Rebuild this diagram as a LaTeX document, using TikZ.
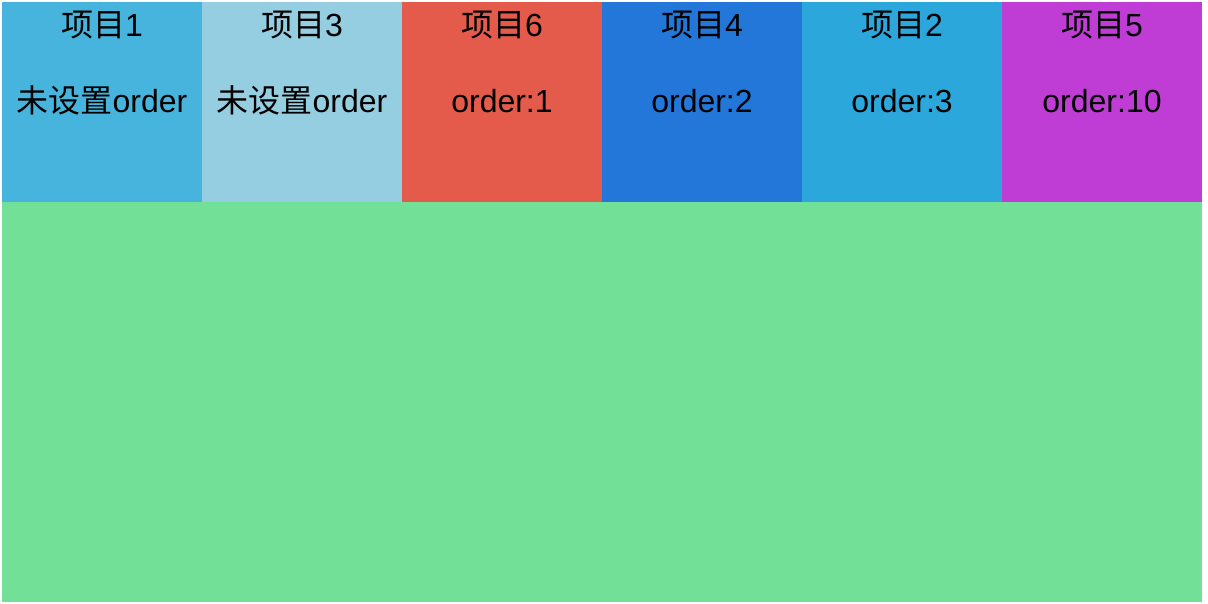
\documentclass[tikz,border=0pt]{standalone}
\usepackage{fontspec}
\setmainfont{Liberation Sans}
\newfontfamily\cjk{Noto Sans CJK SC}
\definecolor{cA}{HTML}{47B4DD}
\definecolor{cB}{HTML}{96CEE1}
\definecolor{cC}{HTML}{E45B4B}
\definecolor{cD}{HTML}{2277D8}
\definecolor{cE}{HTML}{2BA7DC}
\definecolor{cF}{HTML}{BF3DD4}
\definecolor{cG}{HTML}{73E098}
\tikzset{
  itembox/.style={draw=none, minimum width=200pt, minimum height=200pt, inner sep=0pt, outer sep=0pt},
  txt/.style={anchor=base, inner sep=0pt, font=\fontsize{32}{38}\selectfont, text=black},
}
\begin{document}
\begin{tikzpicture}[x=1pt,y=-1pt]
\useasboundingbox[fill=white] (0,0) rectangle (1208,604);
\node[itembox, fill=cG, minimum width=1200pt, minimum height=400pt] (area) at (602,402) {};
\foreach \i/\c/\t/\o in {1/cA/1/{\cjk 未设置}order, 2/cB/3/{\cjk 未设置}order, 3/cC/6/order:1, 4/cD/4/order:2, 5/cE/2/order:3, 6/cF/5/order:10} {
  \node[itembox, fill=\c] (b\i) at ({2+200*\i-100},102) {};
  \node[txt] (t\i) at ({2+200*\i-100},37) {{\cjk 项目}\t};
  \node[txt] (o\i) at ({2+200*\i-100},113) {\o};
}
\end{tikzpicture}
\end{document}
